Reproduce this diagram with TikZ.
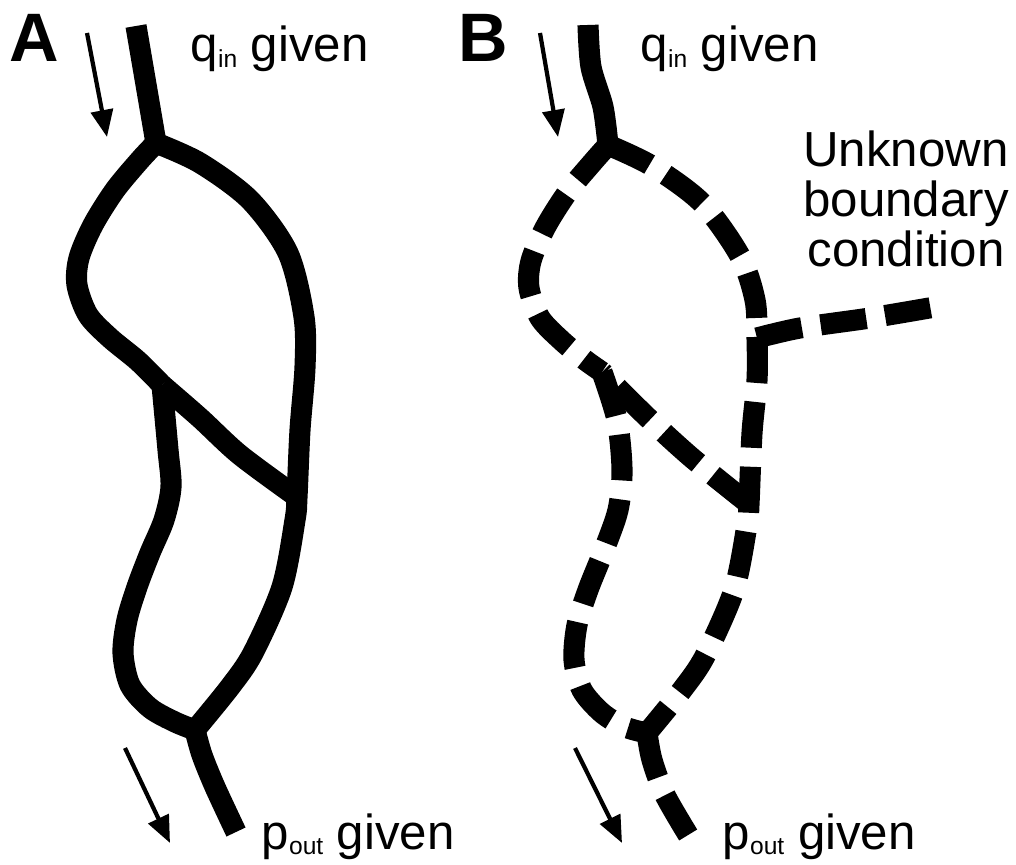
\documentclass[tikz,border=0pt]{standalone}
\usepackage{fontspec}
\setmainfont{Liberation Sans}
\usetikzlibrary{arrows.meta}
\newcommand{\lowsub}[1]{\raisebox{-1.7pt}{\fontsize{7}{7}\selectfont #1}}

\begin{document}
\begin{tikzpicture}[x=0.01cm, y=-0.01cm, every node/.style={font=\fontsize{14}{14.2}\selectfont, inner sep=0pt}]
\tikzstyle{vessel}=[line width=6pt, line join=round]
\tikzstyle{vesseldash}=[vessel, dash pattern=on 0.46cm off 0.19cm]
\tikzstyle{flow}=[line width=1.2pt, -{Triangle[width=0.22cm, length=0.27cm]}]
\tikzstyle{panel}=[font=\fontsize{19.5}{20}\selectfont\bfseries]
\useasboundingbox (0,0) rectangle (1016,865);

% panel A
\node[panel, anchor=base west] (pa) at (9,62) {A};
\node[anchor=base west] (qa) at (190,62) {q\lowsub{in} given};
\node[anchor=base west] (pa) at (261,849) {p\lowsub{out} given};
\coordinate (ain) at (136,26);
\coordinate (a1) at (156,143);
\coordinate (a2) at (162,385);
\coordinate (a3) at (297,497);
\coordinate (a4) at (195,730);
\coordinate (aout) at (236,832);
\draw[vessel] (ain) -- (a1);
\draw[vessel] plot[smooth] coordinates {(a1) (140,160) (115,190) (93,225) (79,258) (77,285) (88,315) (110,338) (138,361) (a2)};
\draw[vessel] plot[smooth] coordinates {(a1) (200,163) (250,200) (288,253) (304,317) (305,367) (300,430) (a3) (295,520) (282,587) (253,653) (230,687) (a4)};
\draw[vessel] plot[smooth] coordinates {(a2) (200,418) (240,455) (a3)};
\draw[vessel] plot[smooth] coordinates {(a2) (168,450) (171,487) (164,520) (150,553) (137,587) (127,620) (123,653) (130,685) (150,708) (175,722) (a4)};
\draw[vessel] plot[smooth] coordinates {(a4) (202,755) (215,787) (aout)};
\coordinate (aqs) at (87,33);
\coordinate (aqe) at (107,137);
\coordinate (aps) at (125,748);
\coordinate (ape) at (170,843);
\draw[flow] (aqs) -- (aqe);
\draw[flow] (aps) -- (ape);

% panel B
\node[panel, anchor=base west] (pb) at (458,62) {B};
\node[anchor=base west] (qb) at (640,62) {q\lowsub{in} given};
\node[anchor=base west] (pb) at (722,849) {p\lowsub{out} given};
\node[align=center, anchor=north] (unk) at (906,130) {Unknown\\boundary\\condition};
\coordinate (bin) at (588,25);
\coordinate (b1) at (608,145);
\coordinate (b2) at (602,372);
\coordinate (b3) at (749,504);
\coordinate (b4) at (647,733);
\coordinate (bside) at (757,338);
\coordinate (bend) at (935,307);
\coordinate (bout) at (690,838);
\draw[vessel] plot[smooth] coordinates {(bin) (591,67) (603,107) (b1)};
\draw[vesseldash] plot[smooth] coordinates {(b1) (592,163) (567,193) (545,228) (531,261) (529,288) (540,318) (562,341) (585,360) (b2)};
\draw[vesseldash] plot[smooth] coordinates {(b1) (652,166) (702,203) (740,256) (755,300) (bside) (757,380) (752,433) (b3) (747,525) (734,590) (705,656) (682,690) (b4)};
\draw[vesseldash] plot[smooth] coordinates {(bside) (800,328) (870,318) (bend)};
\draw[vesseldash] plot[smooth] coordinates {(b3) (692,458) (646,416) (b2)};
\draw[vesseldash] plot[smooth] coordinates {(b2) (617,420) (622,470) (618,510) (604,550) (588,590) (577,625) (574,660) (582,690) (602,713) (625,727) (b4)};
\draw[vesseldash] plot[smooth] coordinates {(b4) (652,760) (665,795) (bout)};
\coordinate (bqs) at (540,33);
\coordinate (bqe) at (558,137);
\coordinate (bps) at (575,748);
\coordinate (bpe) at (622,843);
\draw[flow] (bqs) -- (bqe);
\draw[flow] (bps) -- (bpe);
\end{tikzpicture}
\end{document}
